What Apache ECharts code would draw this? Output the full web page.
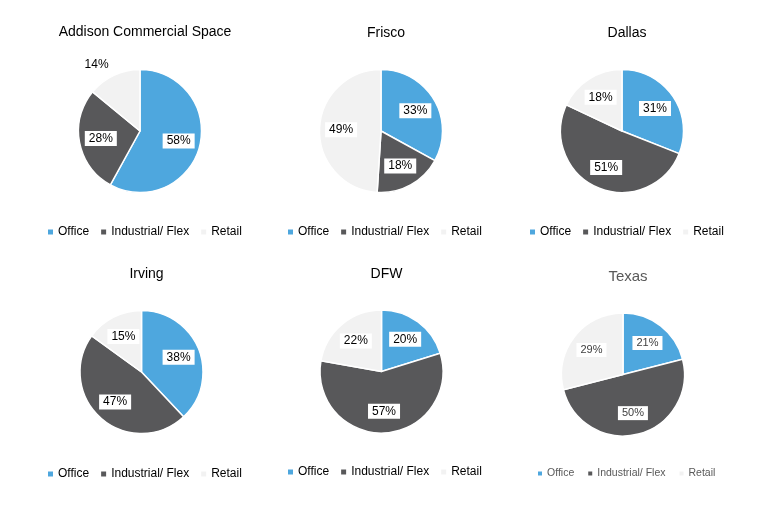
<!DOCTYPE html>
<html><head><meta charset="utf-8">
<script src="https://cdn.jsdelivr.net/npm/echarts@6/dist/echarts.min.js"></script>
<style>html,body{margin:0;padding:0;background:#fff}#c{width:771px;height:516px}</style>
</head><body><div id="c"></div>
<script>
const categories = ['Office', 'Industrial/ Flex', 'Retail'];
const titles = ['Addison Commercial Space', 'Frisco', 'Dallas', 'Irving', 'DFW', 'Texas'];
const addison = [58, 28, 14];
const frisco = [33, 18, 49];
const dallas = [31, 51, 18];
const irving = [38, 47, 15];
const dfw = [20, 57, 22];
const texas = [21, 50, 29];
const seriesValues = [addison, frisco, dallas, irving, dfw, texas];

const colors = ['#4EA7DE', '#58585A', '#F2F2F2'];
const font = 'Liberation Sans';
// layout per chart (px)
const layout = [
  {cx: 140, cy: 131, tx: 140, ty: 20, lx: 46, ly: 226},
  {cx: 381, cy: 131, tx: 381, ty: 21, lx: 286, ly: 226},
  {cx: 622, cy: 131, tx: 622, ty: 21, lx: 528, ly: 226},
  {cx: 141.5, cy: 372, tx: 141.5, ty: 262, lx: 46, ly: 468},
  {cx: 381.5, cy: 371.5, tx: 381.5, ty: 262, lx: 286, ly: 466},
  {cx: 623, cy: 374.5, tx: 623, ty: 264, lx: 536, ly: 468}
];
const R = 61.5;

const title = [], legend = [], series = [];
seriesValues.forEach((vals, i) => {
  const L = layout[i];
  const isTexas = i === 5;
  title.push({
    text: titles[i], left: L.tx, top: L.ty, textAlign: 'center',
    textStyle: {fontFamily: font, fontSize: isTexas ? 15 : 14, fontWeight: 'normal', color: isTexas ? '#595959' : '#000'}
  });
  legend.push({
    data: categories, left: L.lx, top: L.ly, icon: 'rect', padding: 0,
    itemWidth: isTexas ? 6 : 7, itemHeight: isTexas ? 6 : 7, itemGap: isTexas ? 12 : 10,
    selectedMode: false,
    textStyle: {fontFamily: font, fontSize: isTexas ? 10.5 : 12, color: isTexas ? '#595959' : '#000', padding: [0, 0, 0, -1]}
  });
  series.push({
    type: 'pie', center: [L.cx, L.cy], radius: R, startAngle: 90, clockwise: true,
    silent: true, animation: false,
    itemStyle: {borderColor: '#fff', borderWidth: 1.5},
    label: {show: false}, labelLine: {show: false},
    data: vals.map((v, k) => ({name: categories[k], value: v, itemStyle: {color: colors[k]}}))
  });
  // label overlay
  series.push({
    type: 'pie', center: [L.cx, L.cy], radius: R * 1.2, startAngle: 90, clockwise: true,
    silent: true, animation: false, z: 5,
    itemStyle: {color: 'rgba(0,0,0,0)', borderWidth: 0},
    labelLine: {show: false},
    label: {
      show: true, position: 'inside', formatter: '{c}%',
      fontFamily: font, fontSize: isTexas ? 11 : 12, color: isTexas ? '#404040' : '#000',
      backgroundColor: '#fff', padding: [2, 4, 1, 4]
    },
    data: vals.map((v, k) => {
      const d = {value: v};
      if (i === 0 && k === 2) {
        d.label = {position: 'outside', distanceToLabelLine: -4};
        d.labelLine = {show: false, length: 0, length2: 0};
      }
      return d;
    })
  });
});

const chart = echarts.init(document.getElementById('c'), null, {renderer: 'canvas'});
chart.setOption({animation: false, title, legend, series});
</script></body></html>
